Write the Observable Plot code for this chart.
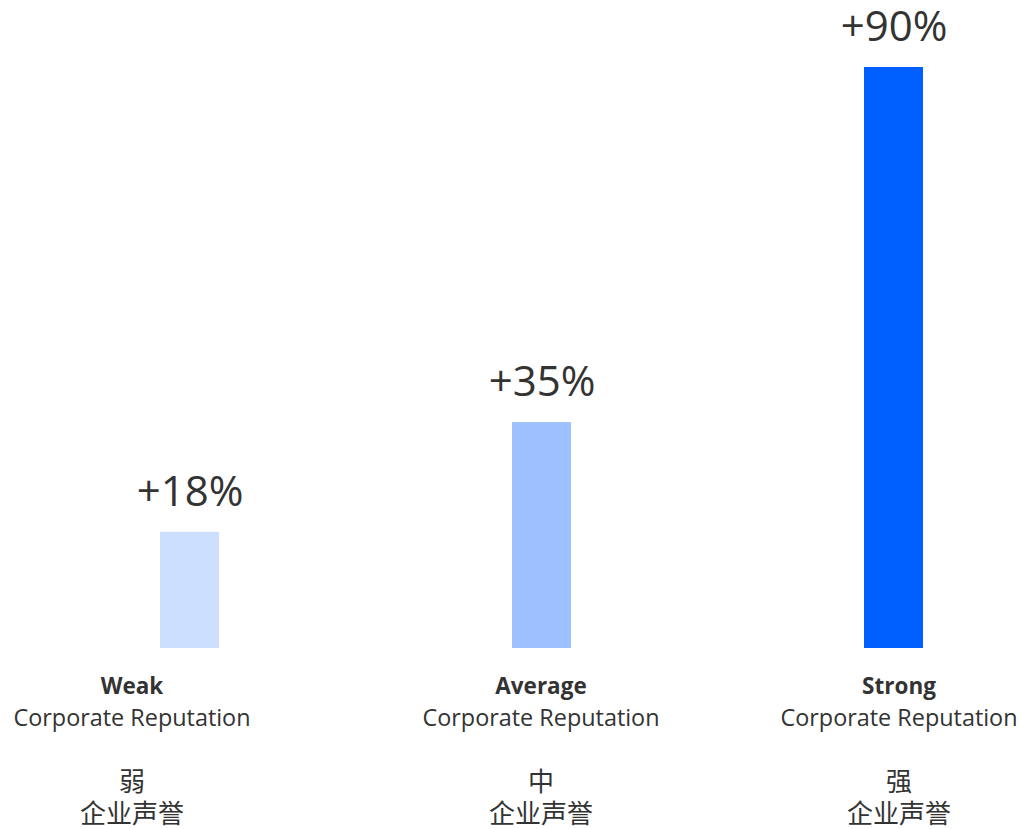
<!DOCTYPE html>
<html>
<head>
<meta charset="utf-8">
<script src="https://cdn.jsdelivr.net/npm/d3@7"></script>
<script src="https://cdn.jsdelivr.net/npm/@observablehq/plot@0.6"></script>
<style>
  html, body { margin: 0; padding: 0; background: #ffffff; }
  #chart svg { display: block; }
</style>
</head>
<body>
<div id="chart"></div>
<script>
// ---- data ----
const categories = ["Weak", "Average", "Strong"];
const values = [18, 35, 90];
const valueLabels = ["+18%", "+35%", "+90%"];
const subtitleEn = "Corporate Reputation";
const levelsZh = ["弱", "中", "强"];
const subtitleZh = "企业声誉";

const rows = categories.map((c, i) => ({
  cat: c, value: values[i], label: valueLabels[i], zh: levelsZh[i]
}));

// ---- styles ----
const textColor = "#333333";
const latin = "'Open Sans', 'Noto Sans', sans-serif";
const cjk = "'Noto Sans CJK SC', sans-serif";
const labelShift = {Weak: -58, Average: -1, Strong: 5};

const categoryMarks = categories.flatMap(c => {
  const sub = rows.filter(r => r.cat === c);
  const dx = labelShift[c];
  return [
    Plot.text(sub, {x: "cat", text: "cat", frameAnchor: "bottom", dx, dy: 38,
      lineAnchor: "middle", fontSize: 22.5, fontWeight: "bold", fontFamily: latin, fill: textColor}),
    Plot.text(sub, {x: "cat", text: () => subtitleEn, frameAnchor: "bottom", dx, dy: 70,
      lineAnchor: "middle", fontSize: 23.4, fontFamily: latin, fill: textColor}),
    Plot.text(sub, {x: "cat", text: "zh", frameAnchor: "bottom", dx, dy: 134,
      lineAnchor: "middle", fontSize: 26, fontFamily: cjk, fill: textColor}),
    Plot.text(sub, {x: "cat", text: () => subtitleZh, frameAnchor: "bottom", dx, dy: 166,
      lineAnchor: "middle", fontSize: 26, fontFamily: cjk, fill: textColor})
  ];
});

const chart = Plot.plot({
  width: 1020,
  height: 829,
  marginTop: 67,
  marginBottom: 181,
  marginLeft: 90,
  marginRight: 26,
  style: {background: "#ffffff", overflow: "visible"},
  x: {domain: categories, paddingInner: 0.832, paddingOuter: 0.2, axis: null},
  y: {domain: [0, 90], axis: null},
  color: {domain: categories, range: ["#cddfff", "#9dc1ff", "#0060ff"]},
  marks: [
    Plot.barY(rows, {x: "cat", y: "value", fill: "cat"}),
    Plot.text(rows, {x: "cat", y: "value", text: "label", dy: -40, lineAnchor: "middle",
      fontSize: 42, fontFamily: latin, fill: textColor}),
    ...categoryMarks
  ]
});

document.getElementById("chart").appendChild(chart);
</script>
</body>
</html>
